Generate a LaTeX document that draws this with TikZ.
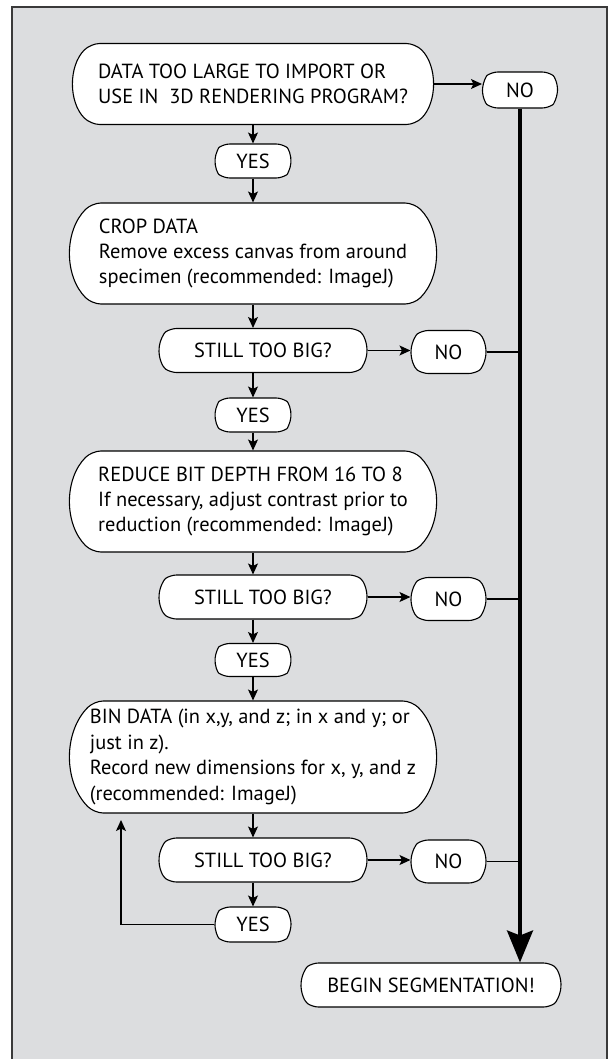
\documentclass[tikz,border=0pt]{standalone}
\usepackage{fontspec}
\setmainfont{PT Sans}
\usetikzlibrary{shapes.misc,arrows.meta}
\definecolor{bg}{HTML}{DCDDDF}
\definecolor{framecol}{HTML}{3A3A3A}
\begin{document}
\begin{tikzpicture}[x=1bp,y=-1bp,
  box/.style={rounded rectangle, rounded rectangle arc length=90, draw=black, fill=white,
    rounded corners=9bp, line width=1.1bp, inner xsep=0pt, inner ysep=0pt, align=left,
    font=\fontsize{20.5}{25.5}\selectfont},
  pill/.style={rounded rectangle, rounded rectangle arc length=110, draw=black, fill=white,
    rounded corners=6bp, line width=1.1bp, inner sep=0pt, font=\fontsize{20.5}{24}\selectfont},
  arr/.style={line width=1.2bp, -{Stealth[length=11bp,width=10bp,inset=2.5bp]}},
  con/.style={line width=1.2bp},
  big/.style={line width=3.5bp, -{Stealth[length=32bp,width=26bp,inset=5bp]}}]
\useasboundingbox (0,0) rectangle (609,1059);
\clip (0,0) rectangle (609,1059);
\fill[white] (0,0) rectangle (609,1059);
\filldraw[fill=bg, draw=framecol, line width=1.5bp] (12,7) -- (607,7) -- (607,1075) -- (12,1075) -- cycle;

\node[box, minimum width=358bp, minimum height=81bp] (n1) at (253,84)
  {DATA TOO LARGE TO IMPORT OR\\USE IN~ 3D RENDERING PROGRAM?};
\node[pill, minimum width=75bp, minimum height=36bp] (no1) at (520,90) {NO};
\node[pill, minimum width=76bp, minimum height=34bp] (yes1) at (253,161) {YES};
\node[box, minimum width=364bp, minimum height=101bp] (n2) at (253,253.5)
  {CROP DATA\\Remove excess canvas from around\\specimen (recommended: ImageJ)};
\node[pill, minimum width=208bp, minimum height=44bp] (s1) at (263,350.5) {STILL TOO BIG?};
\node[pill, minimum width=75bp, minimum height=43bp] (no2) at (448.5,352) {NO};
\node[pill, minimum width=76bp, minimum height=34bp] (yes2) at (253,415) {YES};
\node[box, minimum width=364bp, minimum height=101bp] (n3) at (253,501.5)
  {REDUCE BIT DEPTH FROM 16 TO 8\\If necessary, adjust contrast prior to\\reduction (recommended: ImageJ)};
\node[pill, minimum width=208bp, minimum height=44bp] (s2) at (263,597) {STILL TOO BIG?};
\node[pill, minimum width=75bp, minimum height=43bp] (no3) at (448.5,599) {NO};
\node[pill, minimum width=76bp, minimum height=33bp] (yes3) at (253,660) {YES};
\node[box, minimum width=364bp, minimum height=112bp] (n4) at (253,757)
  {BIN DATA (in x,y, and z; in x and y; or\\just in z).\\Record new dimensions for x, y, and z\\(recommended: ImageJ)};
\node[pill, minimum width=208bp, minimum height=44bp] (s3) at (263,860) {STILL TOO BIG?};
\node[pill, minimum width=75bp, minimum height=43bp] (no4) at (448.5,861.5) {NO};
\node[pill, minimum width=76bp, minimum height=35bp] (yes4) at (253,924.5) {YES};
\node[pill, minimum width=260bp, minimum height=44bp] (beg) at (431,985) {BEGIN SEGMENTATION!};
\coordinate (lp) at (121,820);

\draw[arr] (n1.east) -- (n1.east -| no1.west);
\draw[big] (no1.south) -- (no1.south |- beg.north);
\draw[arr] (n1.south) -- (yes1.north);
\draw[arr] (yes1.south) -- (n2.north);
\draw[arr] (n2.south) -- (n2.south |- s1.north);
\draw[arr] (s1.east) -- (s1.east -| no2.west);
\draw[con] (no2.east) -- (no2.east -| no1.south);
\draw[arr] (n2.south |- s1.south) -- (yes2.north);
\draw[arr] (yes2.south) -- (n3.north);
\draw[arr] (n3.south) -- (n3.south |- s2.north);
\draw[arr] (s2.east) -- (s2.east -| no3.west);
\draw[con] (no3.east) -- (no3.east -| no1.south);
\draw[arr] (n3.south |- s2.south) -- (yes3.north);
\draw[arr] (yes3.south) -- (n4.north);
\draw[arr] (n4.south) -- (n4.south |- s3.north);
\draw[arr] (s3.east) -- (s3.east -| no4.west);
\draw[con] (no4.east) -- (no4.east -| no1.south);
\draw[arr] (n4.south |- s3.south) -- (yes4.north);
\draw[arr] (yes4.west) -| (lp);
\end{tikzpicture}
\end{document}
